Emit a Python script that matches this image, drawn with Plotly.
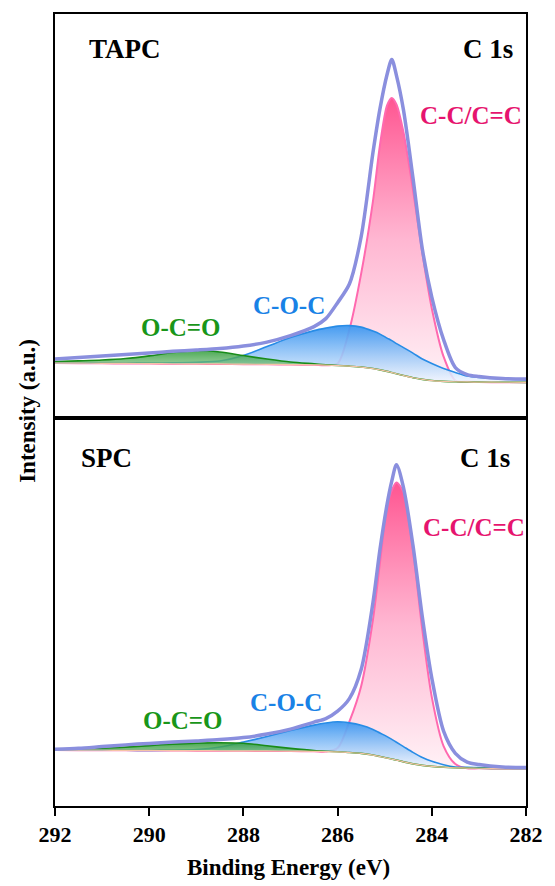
import plotly.graph_objects as go

# ---------------- data ----------------
energy = [292, 291.5, 291, 290.5, 290, 289.5, 289, 288.5, 288, 287.5, 287, 286.5, 286.25, 286,
          285.75, 285.5, 285.25, 285.1, 284.95, 284.85, 284.75, 284.6, 284.4, 284.2, 284,
          283.75, 283.5, 283.25, 283, 282.5, 282]

# TAPC (top panel), intensity in a.u.
tapc_background = [55.5, 55.4, 55.2, 55.1, 55.0, 54.8, 54.7, 54.6, 54.4, 54.2, 54.0, 53.7, 53.4, 53.0,
                   52.4, 51.5, 50.0, 48.7, 47.2, 46.0, 44.8, 43.0, 40.8, 39.2, 38.0,
                   37.2, 36.8, 36.6, 36.4, 36.3, 36.2]
tapc_oco = [57.0, 57.7, 58.5, 60.0, 62.7, 66.0, 68.0, 66.5, 63.0, 59.5, 56.5, 54.7, 53.8, 53.1,
            52.4, 51.5, 50.0, 48.7, 47.2, 46.0, 44.8, 43.0, 40.8, 39.2, 38.0,
            37.2, 36.8, 36.6, 36.4, 36.3, 36.2]
tapc_coc = [55.7, 55.6, 55.5, 55.5, 55.5, 55.8, 56.3, 57.5, 63.0, 72.0, 81.0, 88.0, 90.5, 92.5,
            93.0, 91.5, 87.5, 84.5, 80.5, 78.0, 75.0, 71.0, 65.5, 59.5, 55.0,
            50.0, 46.0, 42.5, 41.0, 39.5, 38.5]
tapc_cc = [55.5, 55.4, 55.2, 55.1, 55.0, 54.8, 54.7, 54.6, 54.4, 54.2, 54.0, 53.7, 53.4, 55.0,
           89.0, 145.0, 217.4, 274.0, 313.5, 321.0, 314.5, 286.4, 229.3, 165.3, 110.2,
           62.0, 38.0, 37.0, 36.6, 36.3, 36.2]
tapc_envelope = [59.5, 61.0, 62.5, 64.0, 65.5, 67.2, 68.5, 70.0, 72.5, 76.5, 83.0, 92.0, 100.0, 116.0,
                 134.6, 182.0, 266.0, 310.2, 344.4, 359.5, 343.3, 308.5, 241.0, 169.4, 121.6,
                 79.0, 51.0, 44.0, 42.0, 40.0, 39.5]

# SPC (bottom panel)
spc_background = [56.0, 55.9, 55.8, 55.7, 55.6, 55.5, 55.4, 55.3, 55.2, 55.1, 55.0, 54.7, 54.5, 54.2,
                  53.5, 52.7, 51.0, 49.5, 48.0, 47.0, 46.0, 44.2, 42.2, 40.7, 39.7,
                  38.8, 38.3, 38.0, 37.8, 37.6, 37.5]
spc_oco = [56.0, 56.8, 57.8, 59.0, 60.5, 62.0, 63.0, 63.3, 62.8, 60.3, 57.7, 55.5, 54.8, 54.3,
           53.5, 52.7, 51.0, 49.5, 48.0, 47.0, 46.0, 44.2, 42.2, 40.7, 39.7,
           38.8, 38.3, 38.0, 37.8, 37.6, 37.5]
spc_coc = [56.0, 56.0, 55.9, 55.8, 55.7, 55.8, 56.5, 59.0, 64.0, 69.5, 75.5, 81.0, 83.1, 84.3,
           83.2, 80.8, 76.7, 73.1, 69.5, 66.7, 63.8, 59.5, 53.7, 48.5, 44.7,
           41.3, 39.1, 38.7, 38.4, 38.0, 37.7]
spc_cc = [56.0, 55.9, 55.8, 55.7, 55.6, 55.5, 55.4, 55.3, 55.2, 55.1, 55.0, 54.7, 54.5, 58.0,
          84.5, 120.0, 186.5, 244.0, 299.0, 316.0, 324.0, 314.0, 256.0, 176.0, 109.0,
          60.0, 42.0, 37.7, 37.7, 37.6, 37.5]
spc_envelope = [56.7, 57.7, 59.5, 61.2, 62.7, 64.0, 65.2, 66.5, 68.5, 72.0, 77.0, 84.0, 87.5, 95.0,
                107.5, 136.6, 203.5, 257.0, 302.0, 325.2, 341.7, 318.6, 261.0, 189.0, 128.0,
                75.0, 52.8, 44.0, 41.5, 39.0, 38.5]

x_ticks = [292, 290, 288, 286, 284, 282]
peak_labels = ["C-C/C=C", "C-O-C", "O-C=O"]
sample_labels = ["TAPC", "SPC"]

# ---------------- styling ----------------
FONT = "Liberation Serif"
W, H = 555, 886
ML, MR, MT, MB = 55, 23, 13, 80
PW, PH = W - ML - MR, H - MT - MB
TOP_H = 405
SPLIT = (PH - TOP_H) / PH

PINK_LINE = "rgb(255,105,175)"
BLUE_LINE = "rgb(40,140,230)"
GREEN_LINE = "rgb(25,140,25)"
ENV_LINE = "rgb(138,143,222)"
BG_LINE = "rgb(245,195,165)"

fig = go.Figure()


def add_panel(xa, ya, bg, cc, coc, oco, env):
    common = dict(x=energy, xaxis=xa, yaxis=ya, mode="lines", showlegend=False,
                  hoverinfo="skip")
    sm = dict(shape="spline", smoothing=0.8)
    # C-C / C=C
    fig.add_trace(go.Scatter(y=bg, line=dict(width=0, **sm), **common))
    fig.add_trace(go.Scatter(y=cc, fill="tonexty",
                             fillgradient=dict(type="vertical",
                                               colorscale=[[0, "rgba(255,240,245,0.9)"],
                                                           [0.5, "rgba(255,175,205,0.9)"],
                                                           [1, "rgb(255,85,145)"]]),
                             line=dict(color=PINK_LINE, width=2, **sm), **common))
    # C-O-C
    fig.add_trace(go.Scatter(y=bg, line=dict(width=0, **sm), **common))
    fig.add_trace(go.Scatter(y=coc, fill="tonexty",
                             fillgradient=dict(type="vertical",
                                               colorscale=[[0, "rgba(240,246,255,0.85)"],
                                                           [1, "rgba(60,150,240,0.95)"]]),
                             line=dict(color=BLUE_LINE, width=1.6, **sm), **common))
    # O-C=O
    fig.add_trace(go.Scatter(y=bg, line=dict(width=0, **sm), **common))
    fig.add_trace(go.Scatter(y=oco, fill="tonexty",
                             fillgradient=dict(type="vertical",
                                               colorscale=[[0, "rgba(200,230,200,0.6)"],
                                                           [1, "rgba(45,155,55,0.85)"]]),
                             line=dict(color=GREEN_LINE, width=1.6, **sm), **common))
    # background
    fig.add_trace(go.Scatter(y=bg, line=dict(color=BG_LINE, width=1.2, **sm), **common))
    # envelope
    fig.add_trace(go.Scatter(y=env, line=dict(color=ENV_LINE, width=3.5, **sm), **common))


add_panel("x2", "y2", tapc_background, tapc_cc, tapc_coc, tapc_oco, tapc_envelope)
add_panel("x", "y", spc_background, spc_cc, spc_coc, spc_oco, spc_envelope)

axis_frame = dict(showline=True, linecolor="black", linewidth=2, mirror=True,
                  showgrid=False, zeroline=False)

fig.update_layout(
    width=W, height=H,
    margin=dict(l=ML, r=MR, t=MT, b=MB),
    paper_bgcolor="white", plot_bgcolor="white",
    xaxis=dict(range=[292, 282], tickvals=x_ticks, ticks="outside", ticklen=8, tickwidth=2,
               tickcolor="black",
               tickfont=dict(family=FONT, size=22, color="black", weight="bold"),
               anchor="y", **axis_frame),
    xaxis2=dict(range=[292, 282], matches="x", showticklabels=False, ticks="",
                anchor="y2", **axis_frame),
    yaxis=dict(domain=[0, SPLIT], range=[0, 388], showticklabels=False, ticks="",
               anchor="x", **axis_frame),
    yaxis2=dict(domain=[SPLIT, 1], range=[0, 405], showticklabels=False, ticks="",
                anchor="x2", **axis_frame),
)


def px(xp):
    return (xp - ML) / PW


def py(yp):
    return (H - MB - yp) / PH


def label(text, xp, yp, color, size, xanchor="center", angle=0):
    fig.add_annotation(text=f"<b>{text}</b>", x=px(xp), y=py(yp), xref="paper", yref="paper",
                       xanchor=xanchor, yanchor="middle", showarrow=False, textangle=angle,
                       font=dict(family=FONT, size=size, color=color))


PINK_TXT = "rgb(230,20,110)"
BLUE_TXT = "rgb(25,130,230)"
GREEN_TXT = "rgb(25,150,25)"

# top panel labels
label(sample_labels[0], 87, 48, "black", 27, "left")
label("C 1s", 521, 48, "black", 27, "right")
label(peak_labels[0], 423, 115, PINK_TXT, 25, "left")
label(peak_labels[1], 292, 305, BLUE_TXT, 25)
label(peak_labels[2], 183, 327, GREEN_TXT, 25)
# bottom panel labels
label(sample_labels[1], 79, 458, "black", 27, "left")
label("C 1s", 518, 458, "black", 27, "right")
label(peak_labels[0], 426, 527, PINK_TXT, 25, "left")
label(peak_labels[1], 289, 702, BLUE_TXT, 25)
label(peak_labels[2], 185, 720, GREEN_TXT, 25)
# axis titles
label("Binding Energy (eV)", 291, 868, "black", 23)
label("Intensity (a.u.)", 27, 410, "black", 23, angle=-90)

fig.write_html("out.html",
               config={"displayModeBar": False},
               post_script="document.body.style.margin='0';document.body.style.overflow='hidden';")
